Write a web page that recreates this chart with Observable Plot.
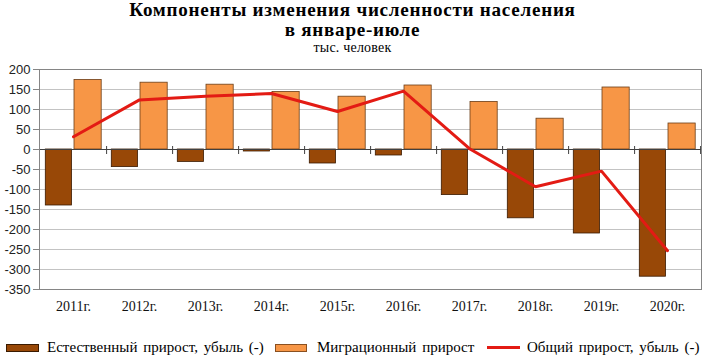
<!DOCTYPE html>
<html>
<head>
<meta charset="utf-8">
<script src="https://cdn.jsdelivr.net/npm/d3@7"></script>
<script src="https://cdn.jsdelivr.net/npm/@observablehq/plot@0.6"></script>
<style>
  html, body { margin: 0; padding: 0; background: #fff; }
  #wrap { position: relative; width: 705px; height: 356px; overflow: hidden; background: #fff; }
  .t { position: absolute; left: 0; width: 705px; text-align: center; font-family: 'Liberation Serif', 'Times New Roman', serif; color: #000; white-space: nowrap; }
  .t1 { top: 0px; font-size: 18px; font-weight: bold; line-height: 20px; letter-spacing: 0.7px; transform: scaleX(1.06); transform-origin: 352.5px 0; }
  .t3 { top: 40px; font-size: 14px; line-height: 16px; height: 16px; letter-spacing: 0.2px; }
  #chart { position: absolute; left: 0; top: 52px; }
  .lg { position: absolute; top: 338px; font-family: 'Liberation Serif', 'Times New Roman', serif; font-size: 15px; line-height: 18px; white-space: nowrap; color: #000; word-spacing: 2px; }
  .sw { position: absolute; box-sizing: border-box; }
</style>
</head>
<body>
<div id="wrap">
  <div class="t t1">Компоненты изменения численности населения<br>в январе-июле</div>
  <div class="t t3">тыс. человек</div>
  <div id="chart"></div>
  <div class="sw" style="left:6px; top:344px; width:33px; height:8px; background:#984807; border:1px solid #3a1a00;"></div>
  <div class="lg" style="left:47px;">Естественный прирост, убыль (-)</div>
  <div class="sw" style="left:275px; top:344px; width:32px; height:8px; background:#F79646; border:1px solid #8a5020;"></div>
  <div class="lg" style="left:317px;">Миграционный прирост</div>
  <div class="sw" style="left:487px; top:346px; width:33px; height:3px; background:#E31B14;"></div>
  <div class="lg" style="left:527px;">Общий прирост, убыль (-)</div>
</div>
<script>
const years = ["2011г.", "2012г.", "2013г.", "2014г.", "2015г.", "2016г.", "2017г.", "2018г.", "2019г.", "2020г."];
const natural = [-140, -44, -31, -5, -35, -15, -114, -172, -210, -318];
const migration = [174, 167, 162, 144, 132, 160, 119, 77, 155, 65];
const total = [32, 124, 133, 140, 95, 146, 2, -93, -54, -253];
const yTicks = [200, 150, 100, 50, 0, -50, -100, -150, -200, -250, -300, -350];

const data = years.map((year, i) => ({year, natural: natural[i], migration: migration[i], total: total[i]}));

const serif = "Liberation Serif, Times New Roman, serif";
const sans = "Liberation Sans, Arial, sans-serif";

const chart = Plot.plot({
  width: 705,
  height: 267,
  marginLeft: 39,
  marginRight: 4,
  marginTop: 17,
  marginBottom: 30,
  style: {background: "#fff"},
  x: {domain: years, type: "band", padding: 0, label: null},
  y: {domain: [-350, 200], label: null},
  marks: [
    Plot.gridY(yTicks, {stroke: "#c3c3c3", strokeOpacity: 1}),
    Plot.barY(data, {x: "year", y: "natural", insetLeft: 5.3, insetRight: 34.5, fill: "#984807", stroke: "#3a1a00", strokeWidth: 0.8}),
    Plot.barY(data, {x: "year", y: "migration", insetLeft: 34, insetRight: 4.8, fill: "#F79646", stroke: "#6b3e18", strokeWidth: 0.8}),
    Plot.ruleY([0], {stroke: "#404040", strokeWidth: 1}),
    Plot.ruleX(data, {x: "year", y1: 0, y2: 0, dx: 33.1, insetTop: -3, insetBottom: -5, stroke: "#404040"}),
    Plot.frame({stroke: "#858585"}),
    Plot.line(data, {x: "year", y: "total", stroke: "#E31B14", strokeWidth: 3, strokeLinejoin: "miter"}),
    Plot.axisY(yTicks, {tickSize: 6, tickPadding: 3, fontSize: 13, fontFamily: sans, stroke: "#858585", color: "#222", tickFormat: d => String(d), label: null}),
    Plot.axisX({tickSize: 0, tickPadding: 12, fontSize: 14, fontFamily: serif, letterSpacing: "0.6px", color: "#111", label: null})
  ]
});
document.getElementById("chart").appendChild(chart);
</script>
</body>
</html>
